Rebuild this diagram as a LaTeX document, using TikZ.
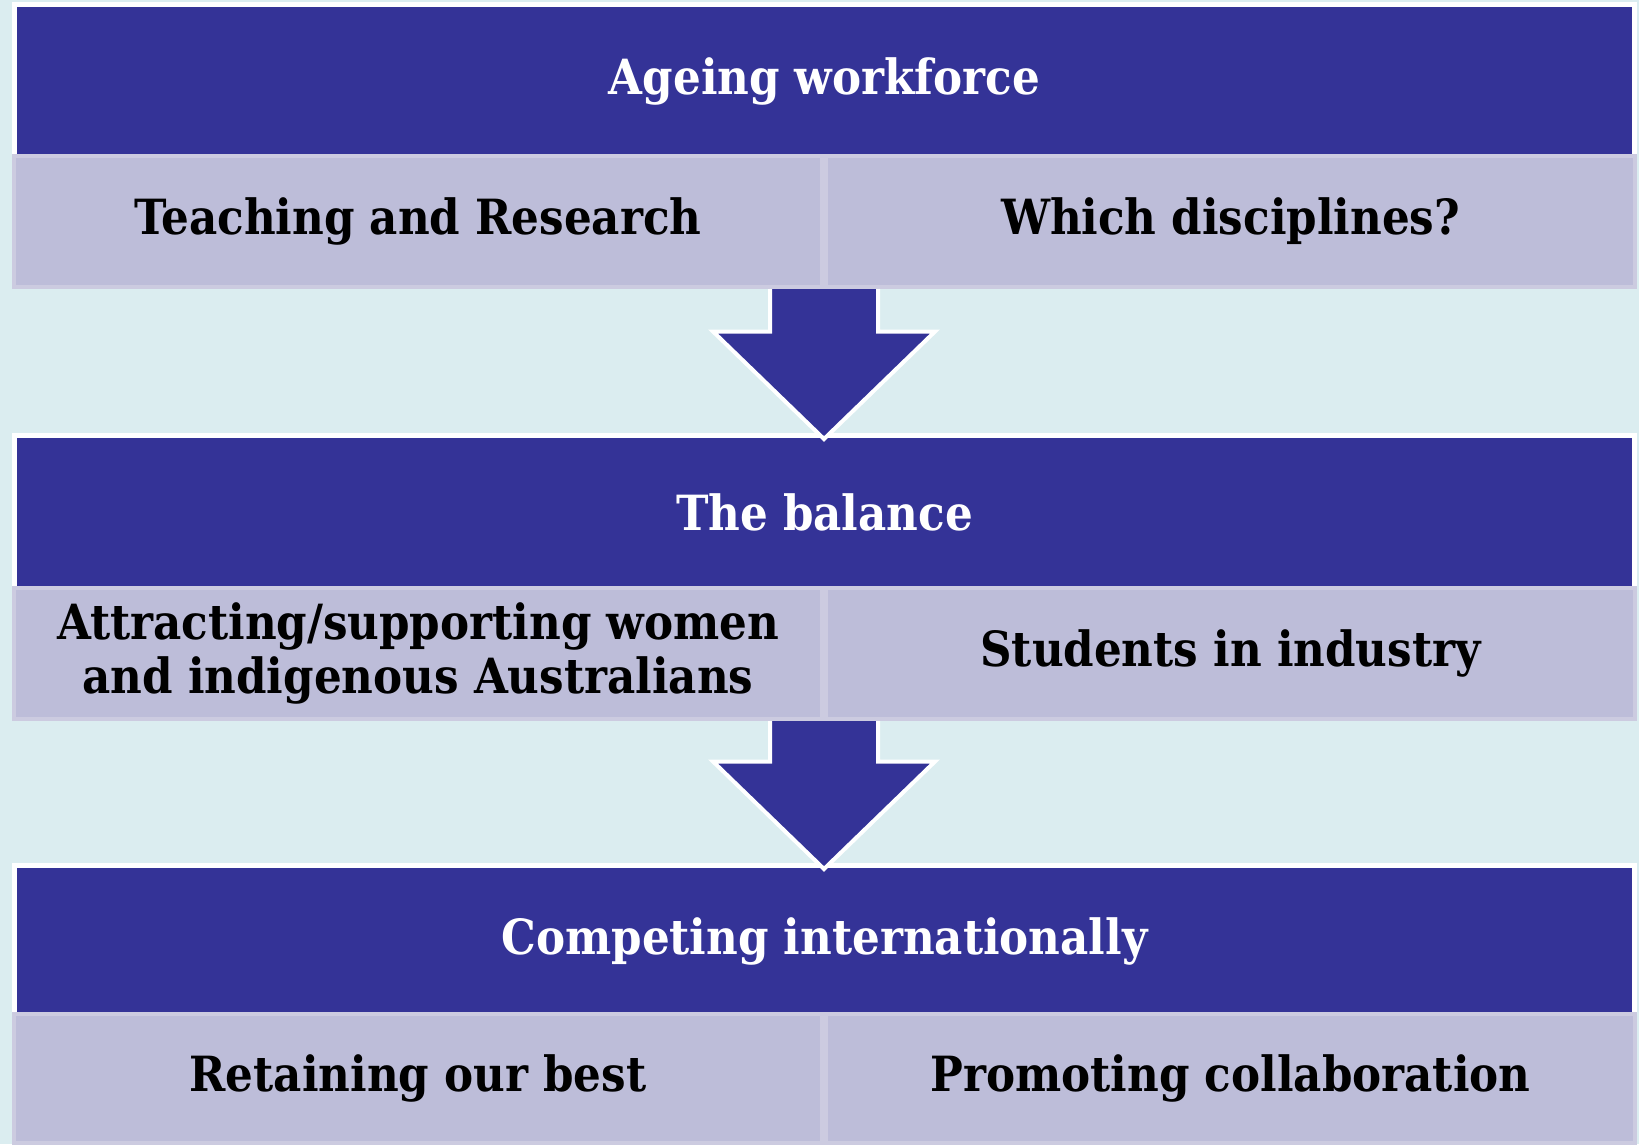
\documentclass[tikz,border=0pt]{standalone}
\usepackage{fontspec}
\IfFontExistsTF{DejaVu Serif Condensed}{\setmainfont{DejaVu Serif Condensed}}{\setmainfont{Liberation Serif}}
\definecolor{bg}{HTML}{DBEDF0}
\definecolor{dark}{HTML}{343397}
\definecolor{lite}{HTML}{BDBDD9}
\definecolor{liteedge}{HTML}{CCCBE0}
\newcommand{\bigfont}{\bfseries\fontsize{48.5}{55}\selectfont}
\begin{document}
\begin{tikzpicture}[x=1pt,y=-1pt,
  darkbox/.style={rectangle,fill=dark,draw=white,line width=5pt,text=white,font=\bigfont,inner sep=0pt,minimum width=1620pt,minimum height=153pt},
  litebox/.style={rectangle,fill=lite,draw=liteedge,line width=4pt,text=black,font=\bigfont,align=center,inner sep=0pt,minimum height=131pt},
  blockarrow/.style={fill=dark,draw=white,line width=4pt,line join=miter}]
\fill[bg] (0,0) rectangle (1639,1144);
\useasboundingbox (0,0) rectangle (1639,1144);
% dark header boxes
\node[darkbox] (age) at (824.5,81) {Ageing workforce};
\node[darkbox] (bal) at (824.5,512) {The balance};
\node[darkbox] (comp) at (824.5,941.5) {Competing internationally};
% block arrows
\draw[blockarrow] (770,280) -- (770,331.5) -- (713,331.5) -- (824,439) -- (935,331.5) -- (878,331.5) -- (878,280) -- cycle;
\draw[blockarrow] (770,710) -- (770,761.5) -- (713,761.5) -- (824,869) -- (935,761.5) -- (878,761.5) -- (878,710) -- cycle;
% light sub-boxes
\node[litebox,minimum width=808pt] (teach) at (418,221.5) {Teaching and Research};
\node[litebox,minimum width=809pt] (disc) at (1230.5,221.5) {Which disciplines?};
\node[litebox,minimum width=808pt] (attr) at (418,653.5) {Attracting/supporting women\\[-1pt]and indigenous Australians};
\node[litebox,minimum width=809pt] (stud) at (1230.5,653.5) {Students in industry};
\node[litebox,minimum width=808pt,minimum height=129pt] (ret) at (418,1078.5) {Retaining our best};
\node[litebox,minimum width=809pt,minimum height=129pt] (prom) at (1230.5,1078.5) {Promoting collaboration};
\end{tikzpicture}
\end{document}
